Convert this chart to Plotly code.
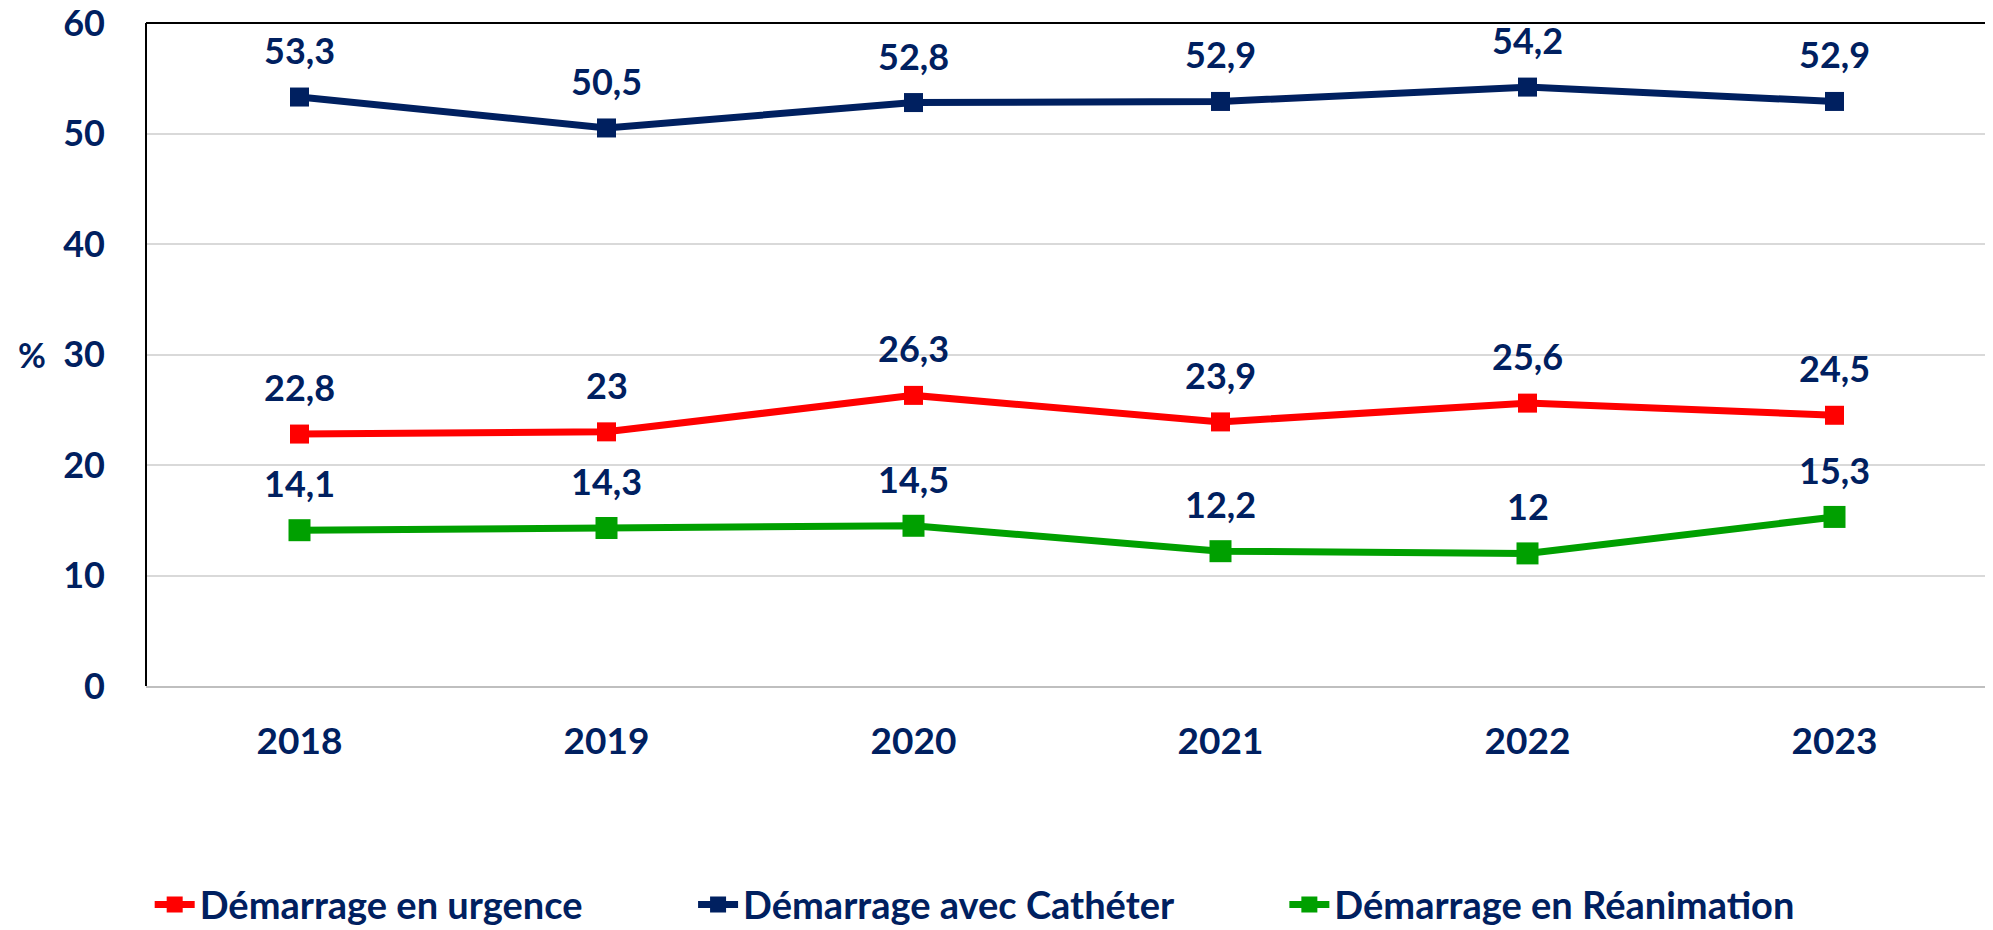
import plotly.graph_objects as go

years = ["2018", "2019", "2020", "2021", "2022", "2023"]
urgence = [22.8, 23, 26.3, 23.9, 25.6, 24.5]
catheter = [53.3, 50.5, 52.8, 52.9, 54.2, 52.9]
reanimation = [14.1, 14.3, 14.5, 12.2, 12, 15.3]
labels_urgence = ["22,8", "23", "26,3", "23,9", "25,6", "24,5"]
labels_catheter = ["53,3", "50,5", "52,8", "52,9", "54,2", "52,9"]
labels_reanimation = ["14,1", "14,3", "14,5", "12,2", "12", "15,3"]
y_title = "%"

NAVY = "#002060"
FONT = "Lato"

fig = go.Figure()
series = [
    ("Démarrage en urgence", urgence, labels_urgence, "#FF0000", 19, "legend"),
    ("Démarrage avec Cathéter", catheter, labels_catheter, NAVY, 19, "legend2"),
    ("Démarrage en Réanimation", reanimation, labels_reanimation, "#00A000", 22, "legend3"),
]
for name, vals, labs, color, ms, lg in series:
    fig.add_trace(go.Scatter(
        x=years, y=vals, name=name, mode="lines+markers", legend=lg,
        line=dict(color=color, width=7),
        marker=dict(symbol="square", size=ms, color=color),
    ))
    for i, (yv, t) in enumerate(zip(vals, labs)):
        fig.add_annotation(x=i, y=yv, text=t, showarrow=False, yshift=47,
                           font=dict(family=FONT, size=36, color=NAVY, weight="bold"))

# y-axis title (upright, as in the reference)
fig.add_annotation(xref="paper", yref="paper", x=-0.062, y=0.5, text=y_title, showarrow=False,
                   xanchor="center", yanchor="middle",
                   font=dict(family=FONT, size=34, color=NAVY, weight="bold"))

# border box
for x0, y0, x1, y1 in [(0, 0, 0, 1), (0, 1, 1, 1), (1, 0, 1, 1)]:
    fig.add_shape(type="line", xref="paper", yref="paper", x0=x0, y0=y0, x1=x1, y1=y1,
                  line=dict(color="black", width=2))

legend_font = dict(family=FONT, size=38, color=NAVY, weight="bold")
legend_common = dict(orientation="h", xanchor="left", y=-0.33, yanchor="middle",
                     font=legend_font, itemwidth=40, bgcolor="rgba(0,0,0,0)")

# the page body adds an 8px offset, so the figure is 16px smaller than the window
fig.update_layout(
    width=1985, height=922,
    margin=dict(l=138, r=5, t=15, b=244, autoexpand=False),
    paper_bgcolor="white", plot_bgcolor="white",
    font=dict(family=FONT, color=NAVY, size=30, weight="bold"),
    showlegend=True,
    legend=dict(x=0.002, **legend_common),
    legend2=dict(x=0.297, **legend_common),
    legend3=dict(x=0.618, **legend_common),
    xaxis=dict(type="category", range=[-0.5, 5.5], autorange=False, showgrid=False,
               showline=True, linecolor="#BFBFBF", linewidth=2, automargin=False,
               ticks="", ticklabelstandoff=22, ticklabeloverflow="allow",
               tickfont=dict(family=FONT, size=37, color=NAVY, weight="bold")),
    yaxis=dict(range=[0, 60], dtick=10, showgrid=True, gridcolor="#D9D9D9", gridwidth=2,
               zeroline=False, ticks="", ticklabelstandoff=40, automargin=False,
               ticklabeloverflow="allow",
               tickfont=dict(family=FONT, size=36, color=NAVY, weight="bold")),
)

fig.write_html("out.html")
